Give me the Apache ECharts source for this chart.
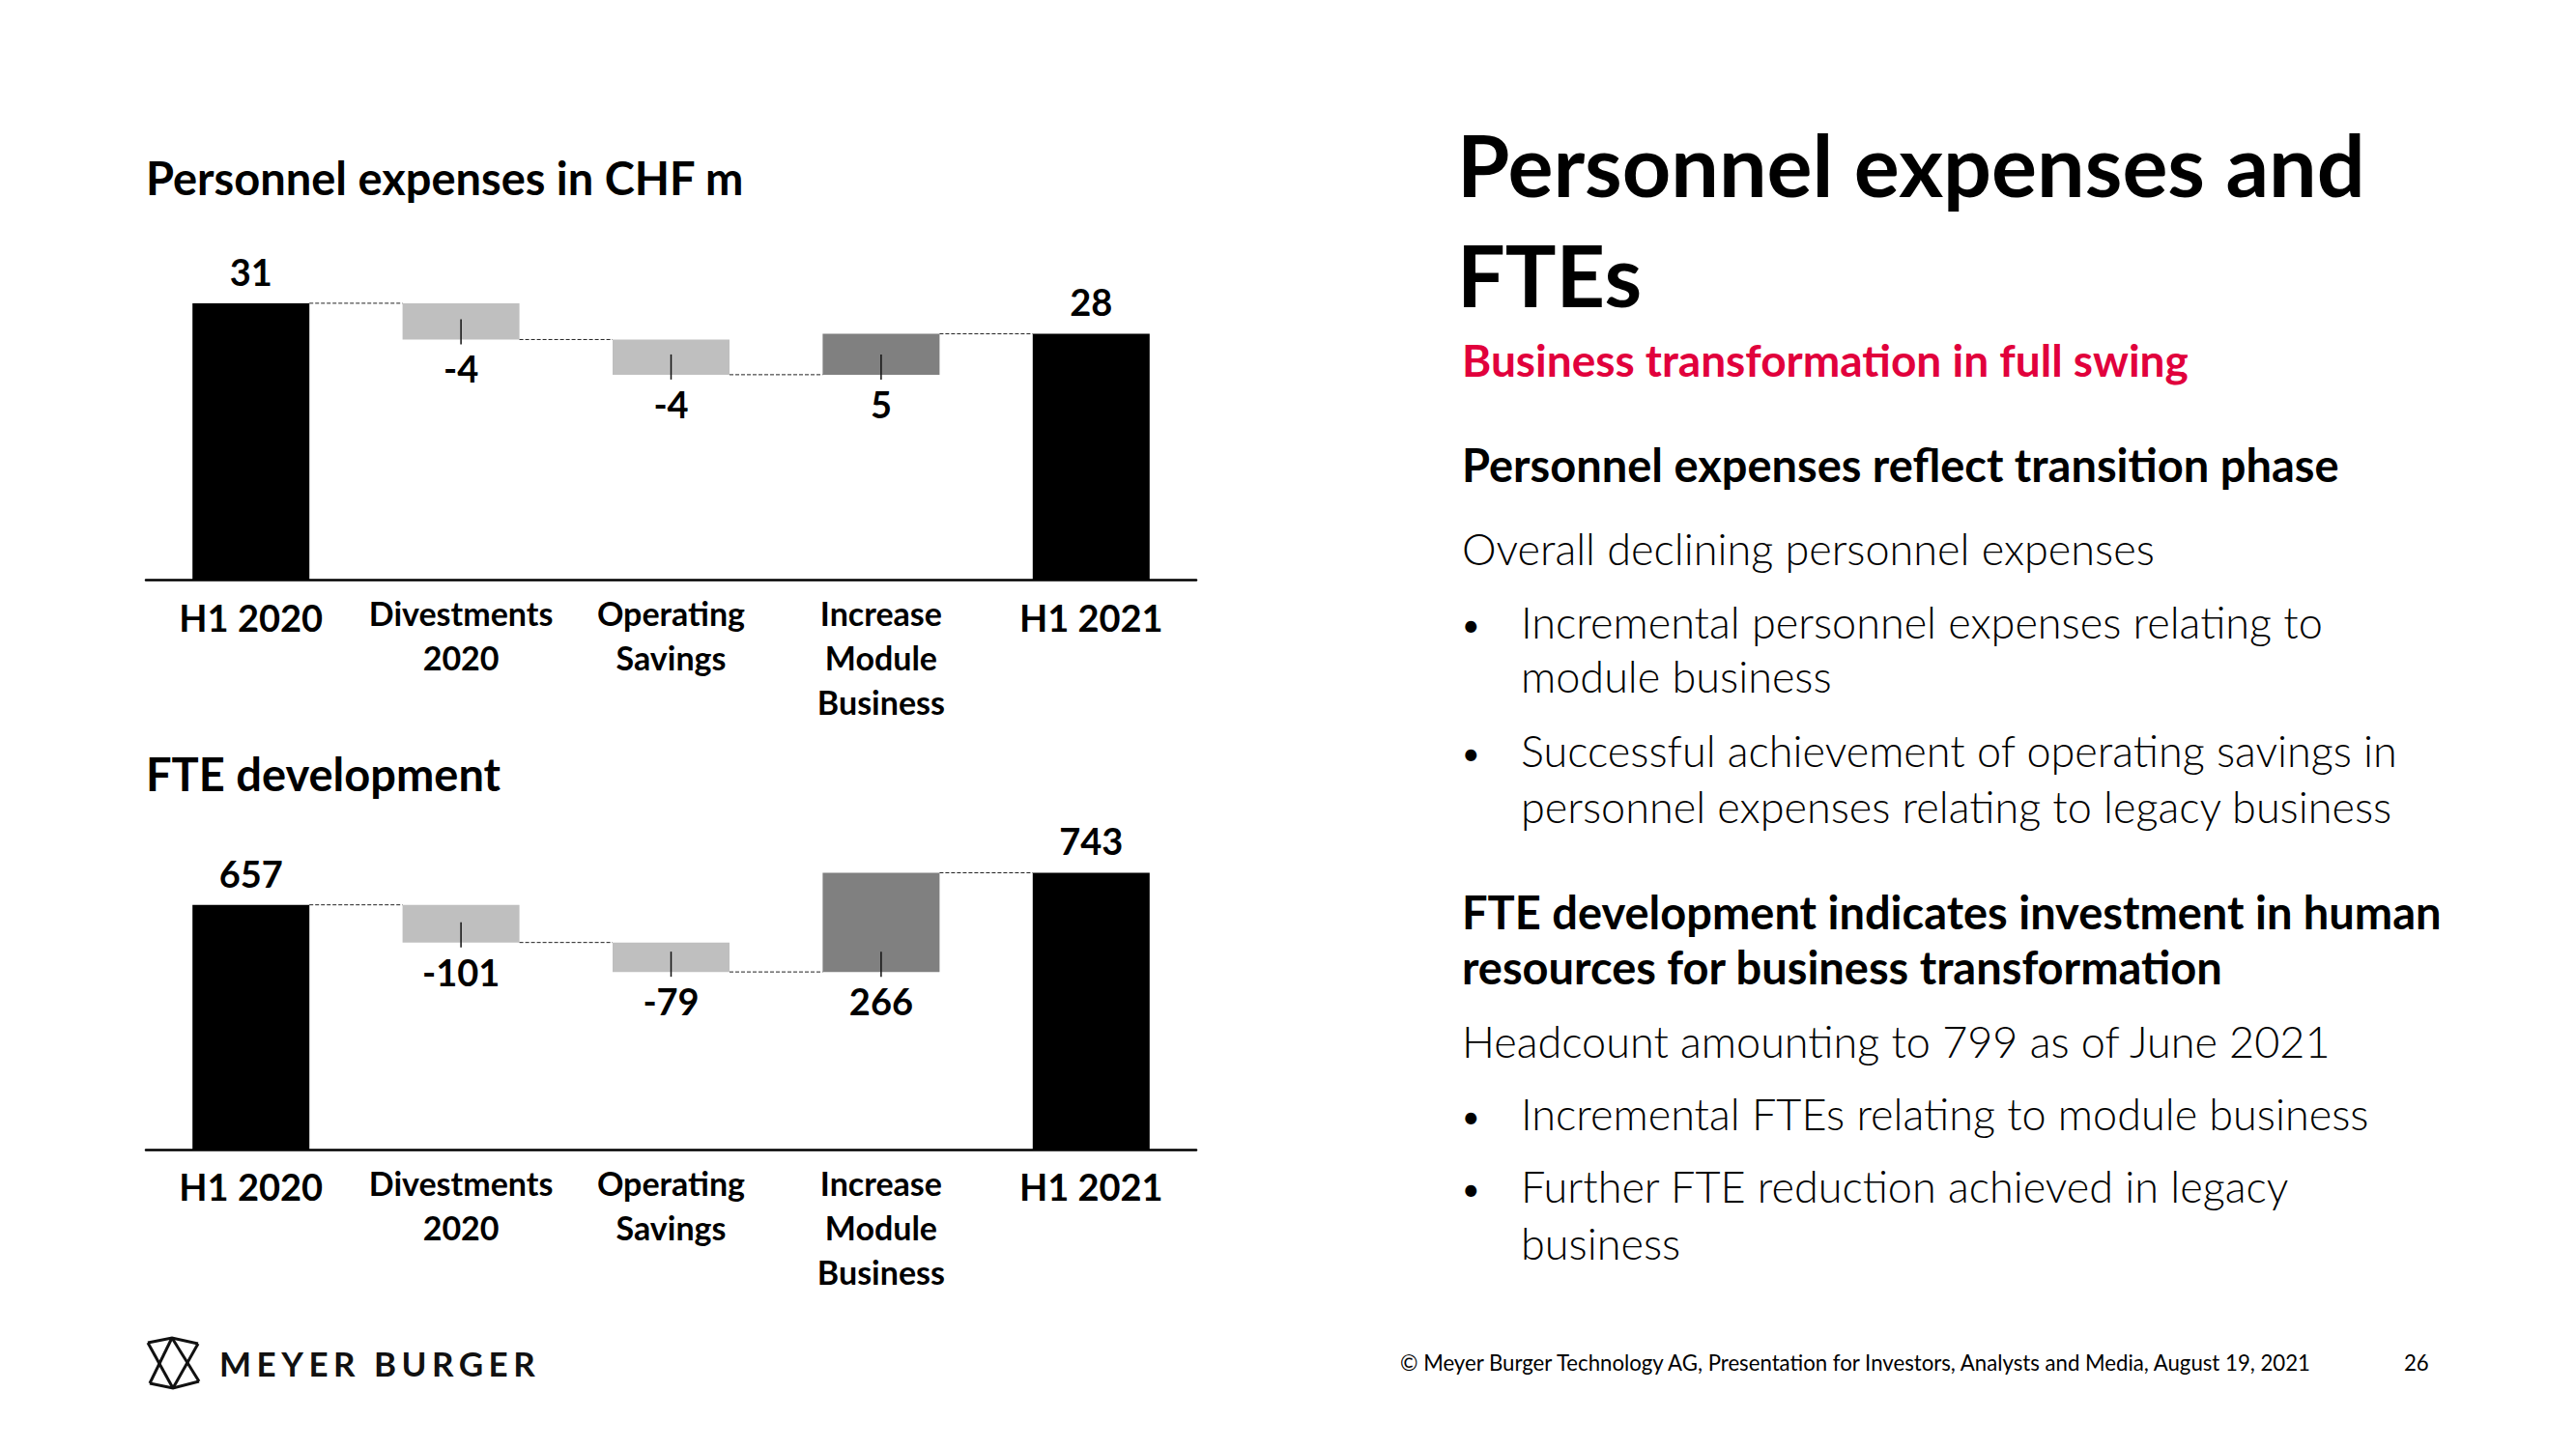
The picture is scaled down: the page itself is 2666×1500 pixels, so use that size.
<!DOCTYPE html>
<html>
<head>
<meta charset="utf-8">
<script src="https://cdn.jsdelivr.net/npm/echarts@6/dist/echarts.min.js"></script>
<style>
html,body{margin:0;padding:0;background:#fff;}
#c{width:2666px;height:1500px;position:absolute;left:0;top:0;}
#logo{position:absolute;left:227px;top:1390px;font-family:'Lato';font-weight:700;font-size:35px;letter-spacing:5.5px;color:#111;white-space:nowrap;}
</style>
</head>
<body>
<div id="c"></div>
<div id="logo">MEYER BURGER</div>
<script>
// ---- data ----
const categories = ['H1 2020', 'Divestments\n2020', 'Operating\nSavings', 'Increase\nModule\nBusiness', 'H1 2021'];
const barKinds = ['total', 'delta', 'delta', 'delta', 'total'];
const expenseValues = [31.15, -4.08, -3.96, 4.6, 27.72];
const expenseLabels = ['31', '-4', '-4', '5', '28'];
const fteValues = [657, -101, -79, 266, 743];
const fteLabels = ['657', '-101', '-79', '266', '743'];
const expenseAxisMax = 35;
const fteAxisMax = 800;

const COL_TOTAL = '#000000', COL_NEG = '#BFBFBF', COL_POS = '#808080';
const FONT = 'Lato';
const BAR_W = 121;

function buildWaterfall(values, labels) {
  let run = 0;
  const base = [], vis = [], connectors = [], ticks = [];
  values.forEach((v, i) => {
    if (barKinds[i] === 'total') {
      base.push(0); run = v;
      vis.push({ value: v, itemStyle: { color: COL_TOTAL }, label: { position: 'top', distance: 14, formatter: labels[i] } });
    } else {
      const lo = Math.min(run, run + v);
      base.push(lo);
      const color = v < 0 ? COL_NEG : COL_POS;
      vis.push({ value: Math.abs(v), itemStyle: { color }, label: { position: 'bottom', distance: 11, formatter: labels[i] } });
      ticks.push([i, lo]);
      run += v;
    }
    if (i < values.length - 1) connectors.push([i, run]);
  });
  return { base, vis, connectors, ticks };
}

const wf1 = buildWaterfall(expenseValues, expenseLabels);
const wf2 = buildWaterfall(fteValues, fteLabels);

function axisLabelFmt(v) {
  const cls = v.indexOf('H1') === 0 ? 'big' : 'small';
  return v.split('\n').map(s => '{' + cls + '|' + s + '}').join('\n');
}

function xAxisDef(gi) {
  return {
    type: 'category', gridIndex: gi, data: categories,
    axisLine: { lineStyle: { color: '#000', width: 2.5 } },
    axisTick: { show: false },
    axisLabel: {
      interval: 0, margin: 11, formatter: axisLabelFmt,
      rich: {
        big: { fontFamily: FONT, fontWeight: 'bold', fontSize: 38, lineHeight: 54, color: '#000' },
        small: { fontFamily: FONT, fontWeight: 'bold', fontSize: 34, lineHeight: 46, color: '#000' }
      }
    }
  };
}
function yAxisDef(gi, max) {
  return { type: 'value', gridIndex: gi, min: 0, max: max, show: false, splitLine: { show: false } };
}

function connectorSeries(gi, data) {
  return {
    type: 'custom', xAxisIndex: gi, yAxisIndex: gi, z: 5, silent: true, data: data,
    renderItem: function (params, api) {
      const p = api.coord([api.value(0), api.value(1)]);
      const band = api.size([1, 0])[0];
      return {
        type: 'line',
        shape: { x1: p[0] + BAR_W / 2, y1: p[1], x2: p[0] + band - BAR_W / 2, y2: p[1] },
        style: { stroke: '#222', lineWidth: 1, lineDash: [4, 2] }
      };
    }
  };
}
function tickSeries(gi, data) {
  return {
    type: 'custom', xAxisIndex: gi, yAxisIndex: gi, z: 6, silent: true, data: data,
    renderItem: function (params, api) {
      const p = api.coord([api.value(0), api.value(1)]);
      return {
        type: 'line',
        shape: { x1: p[0], y1: p[1] - 21, x2: p[0], y2: p[1] + 5 },
        style: { stroke: '#111', lineWidth: 1.5 }
      };
    }
  };
}
function barSeries(gi, wf, stack) {
  return [
    { type: 'bar', xAxisIndex: gi, yAxisIndex: gi, stack: stack, barWidth: BAR_W, silent: true,
      itemStyle: { color: 'rgba(0,0,0,0)' }, data: wf.base },
    { type: 'bar', xAxisIndex: gi, yAxisIndex: gi, stack: stack, barWidth: BAR_W, silent: true,
      label: { show: true, fontFamily: FONT, fontWeight: 'bold', fontSize: 38, color: '#000' },
      data: wf.vis }
  ];
}

function txt(x, y, text, size, weight, color, align) {
  return { type: 'text', x: x, y: y, silent: true,
    style: { text: text, x: 0, y: 0, fill: color || '#000', fontFamily: FONT, fontSize: size,
      fontWeight: weight || 'normal', textAlign: align || 'left', textVerticalAlign: 'middle' } };
}

const RX = 1513, BX = 1513, TX = 1574;
const BODY = 45, HEAD = 47;
const graphics = [
  txt(151, 184, 'Personnel expenses in CHF m', 47, 'bold'),
  txt(151, 801, 'FTE development', 47, 'bold'),
  txt(1508, 170, 'Personnel expenses and', 88, 'bold'),
  txt(1508, 284, 'FTEs', 88, 'bold'),
  txt(RX, 372, 'Business transformation in full swing', 46, 'bold', '#E1003C'),
  txt(RX, 481, 'Personnel expenses reflect transition phase', HEAD, 'bold'),
  txt(RX, 568, 'Overall declining personnel expenses', BODY, 300),
  txt(BX, 646, '•', 32, 'normal'),
  txt(TX, 644, 'Incremental personnel expenses relating to', BODY, 300),
  txt(TX, 700, 'module business', BODY, 300),
  txt(BX, 779, '•', 32, 'normal'),
  txt(TX, 777, 'Successful achievement of operating savings in', BODY, 300),
  txt(TX, 835, 'personnel expenses relating to legacy business', BODY, 300),
  txt(RX, 944, 'FTE development indicates investment in human', HEAD, 'bold'),
  txt(RX, 1001, 'resources for business transformation', HEAD, 'bold'),
  txt(RX, 1078, 'Headcount amounting to 799 as of June 2021', BODY, 300),
  txt(BX, 1155, '•', 32, 'normal'),
  txt(TX, 1153, 'Incremental FTEs relating to module business', BODY, 300),
  txt(BX, 1230, '•', 32, 'normal'),
  txt(TX, 1228, 'Further FTE reduction achieved in legacy', BODY, 300),
  txt(TX, 1287, 'business', BODY, 300),
  txt(1449, 1410, '© Meyer Burger Technology AG, Presentation for Investors, Analysts and Media, August 19, 2021', 22.2, 'normal'),
  txt(2488, 1410, '26', 22.2, 'normal'),
  // logo icon
  { type: 'group', x: 145, y: 1375, silent: true, children: [
    { type: 'polyline', shape: { points: [[8,15],[33,10],[60,16]] }, style: { stroke: '#111', lineWidth: 3, fill: null } },
    { type: 'polyline', shape: { points: [[10,57],[34,62],[61,55]] }, style: { stroke: '#111', lineWidth: 3, fill: null } },
    { type: 'line', shape: { x1: 8, y1: 15, x2: 34, y2: 62 }, style: { stroke: '#111', lineWidth: 3 } },
    { type: 'line', shape: { x1: 60, y1: 16, x2: 34, y2: 62 }, style: { stroke: '#111', lineWidth: 3 } },
    { type: 'line', shape: { x1: 33, y1: 10, x2: 10, y2: 57 }, style: { stroke: '#111', lineWidth: 3 } },
    { type: 'line', shape: { x1: 33, y1: 10, x2: 61, y2: 55 }, style: { stroke: '#111', lineWidth: 3 } }
  ] }
];

const chart = echarts.init(document.getElementById('c'), null, { renderer: 'svg', width: 2666, height: 1500 });
chart.setOption({
  backgroundColor: '#fff',
  animation: false,
  grid: [
    { left: 151, width: 1087, top: 278.5, height: 322 },
    { left: 151, width: 1087, top: 881.5, height: 308.7 }
  ],
  xAxis: [xAxisDef(0), xAxisDef(1)],
  yAxis: [yAxisDef(0, expenseAxisMax), yAxisDef(1, fteAxisMax)],
  series: [
    ...barSeries(0, wf1, 'w1'),
    connectorSeries(0, wf1.connectors),
    tickSeries(0, wf1.ticks),
    ...barSeries(1, wf2, 'w2'),
    connectorSeries(1, wf2.connectors),
    tickSeries(1, wf2.ticks)
  ],
  graphic: graphics
});
</script>
</body>
</html>
